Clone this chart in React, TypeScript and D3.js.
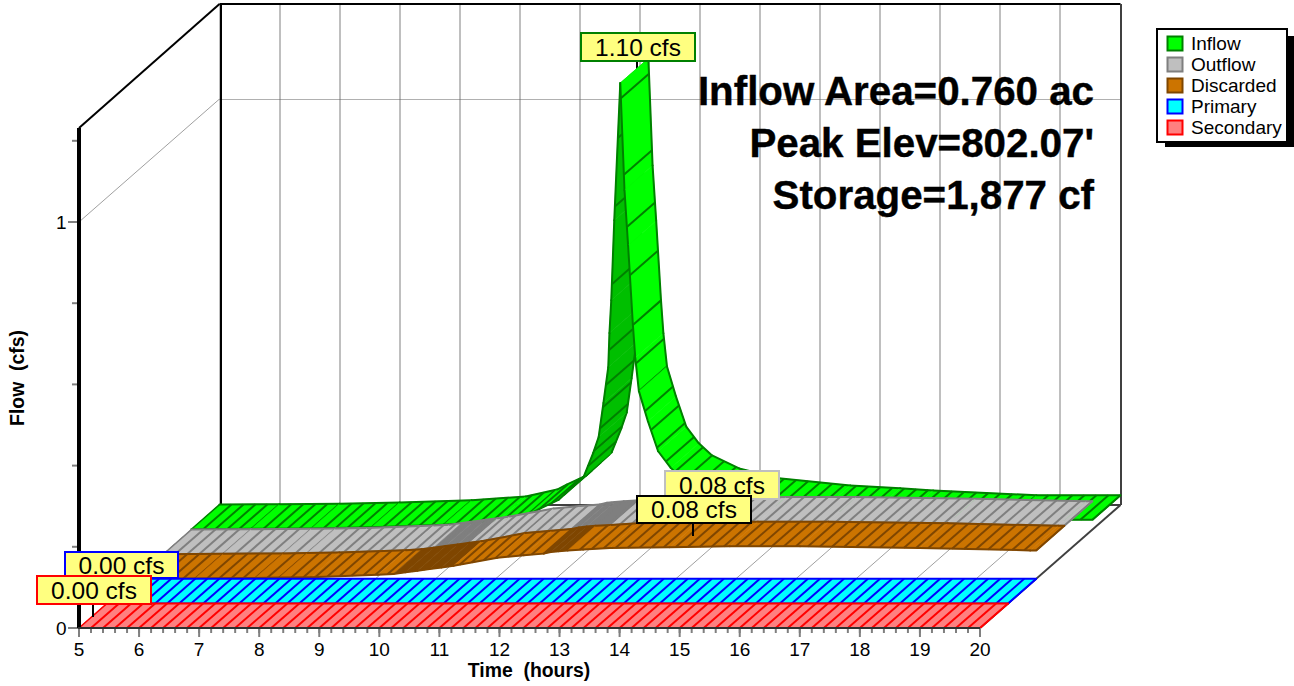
import React from "react";
import * as d3 from "d3";

const hourTicks = [5, 6, 7, 8, 9, 10, 11, 12, 13, 14, 15, 16, 17, 18, 19, 20];
const flowMinorTicks = [0.2, 0.4, 0.6, 0.8, 1.2];
const flowMajorTicks = [0, 1];

const inflowTimes = [5, 6, 7, 8, 9.2, 10.1, 10.62, 10.78, 11.11, 11.53, 11.69, 11.78, 11.86, 11.94, 11.96, 11.99, 12.04, 12.14, 12.21, 12.27, 12.35, 12.39, 12.45, 12.6, 12.77, 12.98, 13.2, 13.65, 14.31, 15.5, 16.33, 16.88, 18.6, 20];
const inflowValues = [0.001, 0.002, 0.003, 0.006, 0.012, 0.021, 0.038, 0.05, 0.073, 0.13, 0.189, 0.228, 0.312, 0.4, 0.484, 0.565, 0.762, 1.1, 0.836, 0.7, 0.504, 0.423, 0.341, 0.267, 0.193, 0.152, 0.122, 0.09, 0.066, 0.048, 0.041, 0.036, 0.024, 0.024];
const dischargeTimes = [5, 6, 7, 7.4, 7.93, 9.04, 9.3, 9.5, 9.7, 9.9, 10.1, 10.3, 11.03, 11.47, 11.8, 11.92, 12.05, 12.2, 12.46, 12.9, 13.9, 14.9, 16.07, 18.06, 19.9, 20];
const dischargeValues = [0, 0.001, 0.002, 0.003, 0.004, 0.01, 0.012, 0.016, 0.02, 0.024, 0.028, 0.032, 0.052, 0.058, 0.062, 0.066, 0.068, 0.07, 0.072, 0.076, 0.078, 0.08, 0.08, 0.076, 0.07, 0.07];
const flatTimes = [5, 20];
const flatValues = [0, 0];
const outflowSpans: number[][] = [[9.5, 10.1], [11.8, 12.46]];
const discardedSpans: number[][] = [[9.3, 10.3], [11.8, 12.2]];
const noSpans: number[][] = [];

const seriesNames = ["Inflow", "Outflow", "Discarded", "Primary", "Secondary"];
const seriesFill = ["#00ff00", "#bfbfbf", "#cc7400", "#00ffff", "#ff8080"];
const seriesDark = ["#00bf00", "#7f7f7f", "#7f4600", "#00bfbf", "#bf6060"];
const seriesLine = ["#008000", "#7f7f7f", "#7f4600", "#0000ff", "#ff0000"];
const seriesTimes = [inflowTimes, dischargeTimes, dischargeTimes, flatTimes, flatTimes];
const seriesValues = [inflowValues, dischargeValues, dischargeValues, flatValues, flatValues];
const seriesSpans = [noSpans, outflowSpans, discardedSpans, noSpans, noSpans];
const seriesDepth = [4, 3, 2, 1, 0];

const statLines = ["Inflow Area=0.760 ac", "Peak Elev=802.07'", "Storage=1,877 cf"];
const calloutTexts = ["1.10 cfs", "0.08 cfs", "0.08 cfs", "0.00 cfs", "0.00 cfs"];

const FONT = "'Liberation Sans', Arial, sans-serif";
const depthX = 140.5;
const depthY = 123;
const stepX = depthX / 5;
const stepY = depthY / 5;
const x = d3.scaleLinear().domain([5, 20]).range([79, 980]);
const y = d3.scaleLinear().domain([0, 1]).range([628, 222]);

function Ribbon({ i }: { i: number }) {
  const times = seriesTimes[i];
  const values = seriesValues[i];
  const ox = seriesDepth[i] * stepX;
  const oy = -seriesDepth[i] * stepY;
  const px = (t: number) => x(t) + ox;
  const py = (v: number) => y(v) + oy;
  const interp = d3.scaleLinear().domain(times).range(values);

  const quads = d3.pairs(d3.zip(times, values)).map(([a, b]) => {
    const x0 = px(a[0]), y0 = py(a[1]), x1 = px(b[0]), y1 = py(b[1]);
    const mid = (a[0] + b[0]) / 2;
    const inSpan = seriesSpans[i].some((s) => mid >= s[0] && mid <= s[1]);
    const back = (y0 - y1) * stepX > stepY * (x1 - x0);
    return { x0, y0, x1, y1, fill: inSpan || back ? seriesDark[i] : seriesFill[i], t0: a[0], t1: b[0] };
  });

  const hatchTimes: number[] = [];
  let acc = 0;
  const n = Math.round((20 - 5) / 0.05);
  for (let k = 1; k <= n; k++) {
    const t0 = 5 + (k - 1) * 0.05;
    const t1 = 5 + k * 0.05;
    acc += Math.hypot(px(t1) - px(t0), py(interp(t1)) - py(interp(t0)));
    if (acc >= 12) {
      hatchTimes.push(t1);
      acc = 0;
    }
  }

  const line = seriesLine[i];
  return (
    <g>
      {quads.map((q, k) => {
        const hs = hatchTimes.filter((t) => t > q.t0 && t <= q.t1);
        return (
          <g key={k}>
            <path
              d={`M${q.x0},${q.y0}L${q.x1},${q.y1}L${q.x1 + stepX},${q.y1 - stepY}L${q.x0 + stepX},${q.y0 - stepY}Z`}
              fill={q.fill}
              stroke={q.fill}
              strokeWidth={0.6}
            />
            {hs.map((t) => (
              <line key={t} x1={px(t)} y1={py(interp(t))} x2={px(t) + stepX} y2={py(interp(t)) - stepY} stroke={line} strokeWidth={2} />
            ))}
            <line x1={q.x0} y1={q.y0} x2={q.x1} y2={q.y1} stroke={line} strokeWidth={2} strokeLinecap="round" />
            <line x1={q.x0 + stepX} y1={q.y0 - stepY} x2={q.x1 + stepX} y2={q.y1 - stepY} stroke={line} strokeWidth={2} strokeLinecap="round" />
          </g>
        );
      })}
      <line x1={px(5)} y1={py(values[0])} x2={px(5) + stepX} y2={py(values[0]) - stepY} stroke={line} strokeWidth={1.5} />
      <line x1={px(20)} y1={py(values[values.length - 1])} x2={px(20) + stepX} y2={py(values[values.length - 1]) - stepY} stroke={line} strokeWidth={1.5} />
    </g>
  );
}

function Callout({ x0, y0, w, h, color, text }: { x0: number; y0: number; w: number; h: number; color: string; text: string }) {
  return (
    <g>
      <rect x={x0} y={y0} width={w} height={h} fill="#ffff80" stroke={color} strokeWidth={2} />
      <text x={x0 + w / 2} y={y0 + h / 2 + 8.5} textAnchor="middle" fontSize={24.5} fontFamily={FONT} fill="#000">
        {text}
      </text>
    </g>
  );
}

export default function App() {
  const minorX = d3.range(5, 20.001, 0.2);
  const backX = (t: number) => x(t) + depthX;
  const backFloor = y(0) - depthY;
  const ceilingY = y(0) - 624;
  return (
    <svg width={1294} height={686} style={{ position: "absolute", left: 0, top: 0, display: "block", background: "#fff" }}>
      {/* back wall grid */}
      {hourTicks.map((t) => (
        <line key={t} x1={Math.round(backX(t))} y1={ceilingY} x2={Math.round(backX(t))} y2={backFloor} stroke="#bfbfbf" strokeWidth={2} />
      ))}
      {/* floor grid */}
      {hourTicks.map((t) => (
        <line key={t} x1={x(t)} y1={y(0)} x2={backX(t)} y2={backFloor} stroke="#a0a0a0" strokeWidth={1} />
      ))}
      {/* value gridline */}
      <line x1={x(5)} y1={y(1)} x2={backX(5)} y2={y(1) - depthY} stroke="#a0a0a0" strokeWidth={1} />
      <line x1={backX(5)} y1={y(1) - depthY + 0.5} x2={backX(20)} y2={y(1) - depthY + 0.5} stroke="#606060" strokeWidth={1} strokeDasharray="1 1" />

      {/* frame */}
      <line x1={Math.round(backX(5)) + 1} y1={ceilingY} x2={Math.round(backX(5)) + 1} y2={backFloor} stroke="#000" strokeWidth={2} />
      <line x1={backX(5)} y1={ceilingY} x2={backX(20)} y2={ceilingY} stroke="#000" strokeWidth={2} />
      <line x1={x(5)} y1={128} x2={backX(5)} y2={ceilingY} stroke="#000" strokeWidth={2} />
      <line x1={Math.round(backX(20))} y1={ceilingY} x2={Math.round(backX(20))} y2={backFloor} stroke="#404040" strokeWidth={2} />
      <line x1={backX(5)} y1={backFloor} x2={backX(20)} y2={backFloor} stroke="#404040" strokeWidth={2} />
      <line x1={x(20)} y1={y(0)} x2={backX(20)} y2={backFloor} stroke="#404040" strokeWidth={2} />
      <line x1={x(5)} y1={y(0)} x2={backX(5)} y2={backFloor} stroke="#404040" strokeWidth={1} />

      {/* stems */}
      <line x1={637} y1={62} x2={637} y2={74} stroke="#000" strokeWidth={2} />

      {[0, 1, 2, 3, 4].map((i) => (
        <Ribbon key={i} i={i} />
      ))}

      {/* axes */}
      {flowMinorTicks.map((v) => (
        <line key={v} x1={72} y1={y(v)} x2={80} y2={y(v)} stroke="#808080" strokeWidth={2} />
      ))}
      {flowMajorTicks.map((v) => (
        <g key={v}>
          <line x1={68} y1={y(v)} x2={80} y2={y(v)} stroke="#808080" strokeWidth={2} />
          <text x={66.5} y={y(v) + 7} textAnchor="end" fontSize={19} fontFamily={FONT} fill="#000">
            {v}
          </text>
        </g>
      ))}
      <line x1={79} y1={128} x2={79} y2={628} stroke="#000" strokeWidth={4} />
      {minorX.map((t) => (
        <line key={t} x1={x(t)} y1={y(0)} x2={x(t)} y2={y(0) + 5} stroke="#808080" strokeWidth={2} />
      ))}
      {hourTicks.map((t) => (
        <g key={t}>
          <line x1={x(t)} y1={y(0)} x2={x(t)} y2={y(0) + 9} stroke="#808080" strokeWidth={2} />
          <text x={x(t)} y={656} textAnchor="middle" fontSize={19} fontFamily={FONT} fill="#000">
            {t}
          </text>
        </g>
      ))}
      <line x1={78} y1={y(0)} x2={x(20)} y2={y(0)} stroke="#303030" strokeWidth={2} />
      <text x={529} y={677} textAnchor="middle" fontSize={19.4} fontWeight="bold" fontFamily={FONT} fill="#000" style={{ whiteSpace: "pre" }}>
        {"Time  (hours)"}
      </text>
      <text transform="translate(24,378) rotate(-90)" textAnchor="middle" fontSize={19.4} fontWeight="bold" fontFamily={FONT} fill="#000" style={{ whiteSpace: "pre" }}>
        {"Flow  (cfs)"}
      </text>

      {/* stats */}
      {statLines.map((s, k) => (
        <text key={k} x={1094} y={105 + k * 52} textAnchor="end" fontSize={40.3} fontWeight="bold" fontFamily={FONT} fill="#000" stroke="#000" strokeWidth={0.4}>
          {s}
        </text>
      ))}

      {/* callouts */}
      <Callout x0={581} y0={33} w={114} h={28} color="#008000" text={calloutTexts[0]} />
      <Callout x0={665} y0={471} w={114} h={28} color="#bfbfbf" text={calloutTexts[1]} />
      <line x1={693} y1={523} x2={693} y2={536} stroke="#000" strokeWidth={2} />
      <Callout x0={637} y0={496} w={114} h={27} color="#000000" text={calloutTexts[2]} />
      <line x1={93} y1={604} x2={93} y2={617} stroke="#000" strokeWidth={2} />
      <Callout x0={65} y0={552} w={113} h={26} color="#0000ff" text={calloutTexts[3]} />
      <Callout x0={37} y0={576} w={114} h={28} color="#ff0000" text={calloutTexts[4]} />

      {/* legend */}
      <rect x={1165} y={36} width={129} height={111} fill="#000" />
      <rect x={1157} y={29} width={130} height={113} fill="#fff" stroke="#000" strokeWidth={2} />
      {seriesNames.map((name, k) => (
        <g key={name}>
          <rect x={1167.5} y={36.5 + k * 21} width={15} height={14} fill={seriesFill[k]} stroke={seriesLine[k]} strokeWidth={2} />
          <text x={1191} y={49.5 + k * 21} fontSize={19} fontFamily={FONT} fill="#000">
            {name}
          </text>
        </g>
      ))}
    </svg>
  );
}
